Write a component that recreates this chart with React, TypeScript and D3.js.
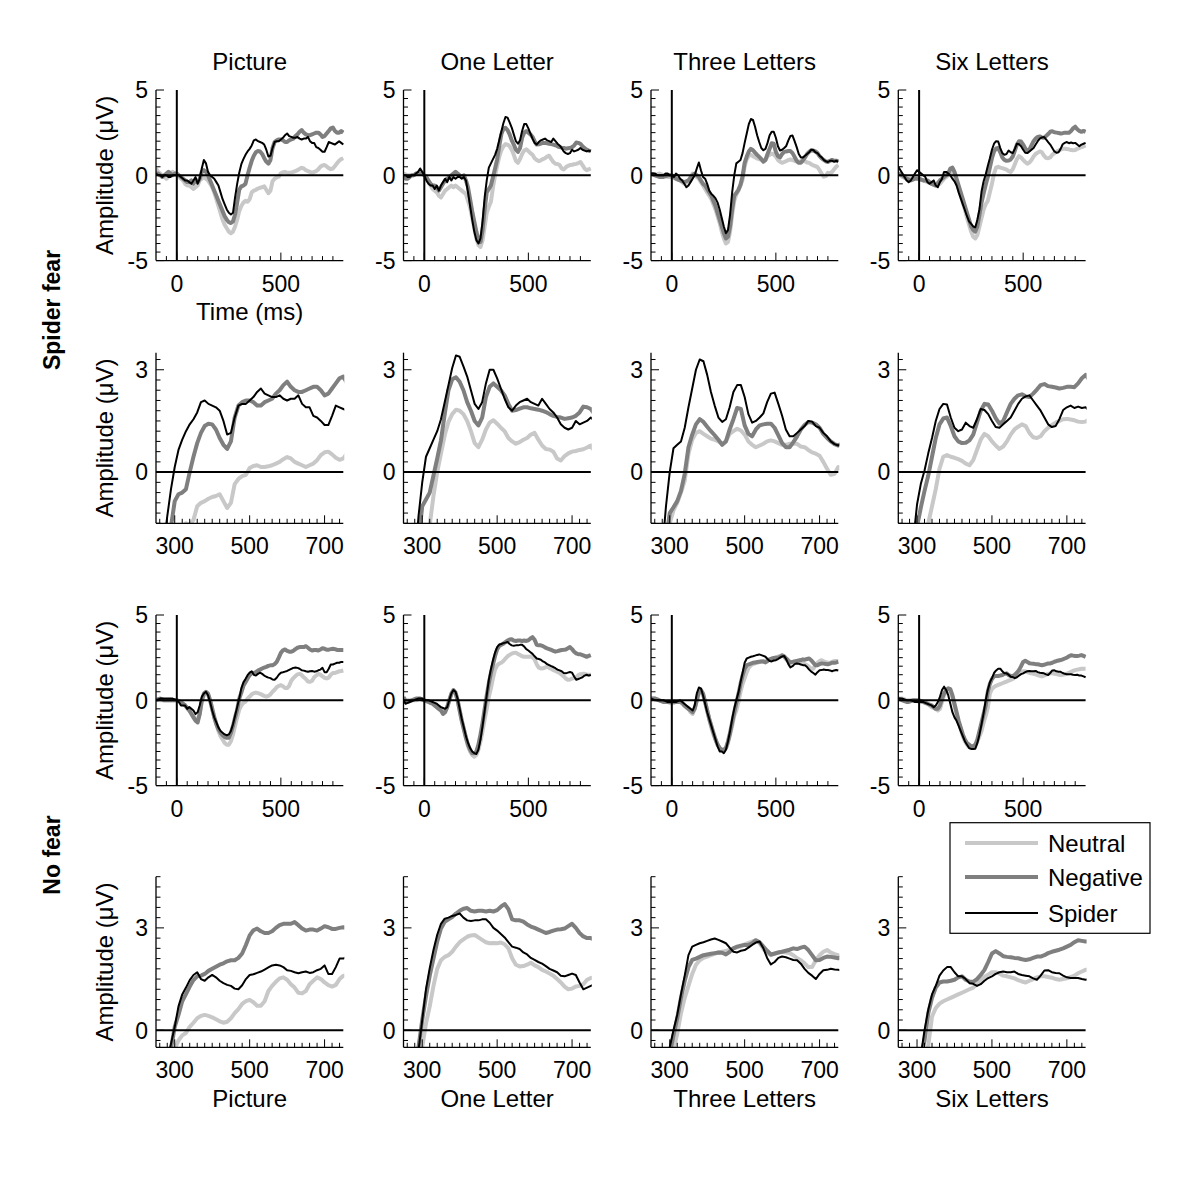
import React, { useEffect } from "react";
import * as d3 from "d3";

// ---------- DATA ----------
// sampling grid (ms), -100 .. 800 in 10 ms steps
const TIME: number[] = d3.range(-100, 801, 10);

const TASKS = ["Picture", "One Letter", "Three Letters", "Six Letters"];
const CONDITIONS = ["Neutral", "Negative", "Spider"];
const GROUPS = ["Spider fear", "No fear"];

const FULL_X_TICKS = [0, 500];
const FULL_Y_TICKS = [-5, 0, 5];
const ZOOM_X_TICKS = [300, 500, 700];
const ZOOM_Y_TICKS = [0, 3];

// ---- Spider fear group ----
const sfPictureNeutral = [
  0.4, 0.2, 0.1, 0, -0.1, -0.2, -0.1, 0.1, 0.2, 0.1,
  0, -0.1, -0.2, -0.3, -0.5, -0.6, -0.6, -0.7, -0.8, -0.7,
  -0.6, -0.3, -0.2, -0.1, -0.2, -0.3, -0.5, -0.7, -1.0, -1.4,
  -1.8, -2.2, -2.6, -2.9, -3.1, -3.3, -3.4, -3.3, -3.0, -2.6,
  -2.1, -1.8, -1.6, -1.5, -1.55, -1.4, -1.0, -0.9, -0.85, -0.78,
  -0.73, -0.7, -0.65, -0.85, -1.05, -0.9, -0.35, -0.2, -0.12, -0.08,
  0.12, 0.18, 0.2, 0.15, 0.15, 0.17, 0.2, 0.25, 0.3, 0.38,
  0.44, 0.4, 0.3, 0.25, 0.2, 0.15, 0.2, 0.25, 0.35, 0.5,
  0.58, 0.6, 0.52, 0.42, 0.36, 0.4, 0.55, 0.7, 0.85, 0.95,
  1.0,
];
const sfPictureNegative = [
  0.1, 0.1, 0, -0.1, 0, 0.1, 0.2, 0.1, 0, 0.1,
  0.1, 0, -0.1, -0.2, -0.3, -0.4, -0.4, -0.3, -0.5, -0.3,
  -0.4, -0.2, 0.2, 0.3, 0.2, 0.0, -0.3, -0.6, -0.9, -1.2,
  -1.5, -1.8, -2.1, -2.4, -2.6, -2.75, -2.8, -2.7, -2.3, -1.6,
  -0.85, -0.65, -0.6, -0.5, 0.0, 0.45, 0.85, 1.15, 1.35, 1.42,
  1.4, 1.25, 1.0, 0.8, 0.68, 0.9, 1.6, 1.95, 2.05, 2.1,
  2.1, 2.05, 1.95, 1.95, 2.05, 2.1, 2.15, 2.3, 2.4, 2.55,
  2.65, 2.5, 2.4, 2.35, 2.35, 2.4, 2.45, 2.5, 2.5, 2.4,
  2.25, 2.3, 2.45, 2.6, 2.75, 2.8, 2.6, 2.5, 2.5, 2.6,
  2.5,
];
const sfPictureSpider = [
  0.1, 0, 0, -0.1, 0, 0, -0.1, -0.1, 0, 0,
  0, 0, -0.1, -0.2, -0.3, -0.3, -0.4, -0.5, -0.3, -0.1,
  -0.5, -0.2, 0.4, 0.9, 0.7, 0.2, 0.0, -0.1, -0.2, -0.4,
  -0.6, -1.0, -1.4, -1.7, -2.0, -2.2, -2.3, -2.2, -1.3, -0.5,
  0.15, 0.65, 0.95, 1.2, 1.4, 1.55, 1.75, 2.05, 2.1, 2.0,
  1.95, 1.9, 1.8, 1.5, 1.1, 1.15, 1.6, 1.95, 2.0, 2.0,
  2.1, 2.2, 2.35, 2.45, 2.3, 2.25, 2.2, 2.2, 2.25, 2.15,
  2.1, 2.15, 2.15, 2.25, 2.0, 1.9, 1.9, 1.65, 1.6, 1.5,
  1.38, 1.38, 1.65, 1.95, 1.9, 1.85, 1.8, 1.9, 2.0, 1.9,
  1.8,
];

const sfOneNeutral = [
  0.1, 0.05, 0, 0, 0, 0, 0.1, 0.1, 0.1, 0.1,
  0, -0.2, -0.4, -0.6, -0.8, -0.9, -1.0, -1.2, -1.3, -1.1,
  -0.9, -0.8, -0.7, -0.6, -0.7, -0.6, -0.7, -0.8, -0.9, -1.0,
  -1.1, -1.5, -1.9, -2.5, -3.1, -3.7, -4.1, -4.2, -3.8, -3.0,
  -2.2, -1.85, -1.55, -0.7, 0.0, 0.54, 1.08, 1.47, 1.7, 1.83,
  1.8, 1.7, 1.5, 1.2, 0.85, 0.73, 0.95, 1.25, 1.45, 1.52,
  1.42, 1.3, 1.2, 1.0, 0.9, 0.83, 0.88, 0.95, 1.0, 1.1,
  1.15, 0.95, 0.78, 0.68, 0.66, 0.6, 0.4, 0.34, 0.47, 0.55,
  0.6, 0.62, 0.65, 0.67, 0.72, 0.78, 0.6, 0.4, 0.3, 0.35,
  0.4,
];
const sfOneNegative = [
  -0.1, -0.2, -0.2, -0.1, 0, 0, 0.1, 0.1, 0.1, 0.1,
  0, -0.1, -0.3, -0.5, -0.6, -0.6, -0.7, -0.9, -0.7, -0.5,
  -0.3, -0.2, -0.1, 0.0, 0.1, 0.2, 0.1, 0, -0.1, 0,
  -0.3, -0.7, -1.4, -2.1, -2.7, -3.3, -3.8, -3.9, -3.2, -2.0,
  -1.0, -0.8, -0.6, -0.1, 0.4, 0.93, 1.7, 2.4, 2.72, 2.78,
  2.65, 2.4, 2.05, 1.8, 1.5, 1.37, 1.6, 2.2, 2.5, 2.6,
  2.5, 2.4, 2.25, 2.0, 1.8, 1.82, 1.86, 1.9, 1.9, 1.87,
  1.85, 1.83, 1.8, 1.76, 1.7, 1.65, 1.62, 1.6, 1.56, 1.58,
  1.6, 1.65, 1.75, 1.92, 1.9, 1.85, 1.7, 1.6, 1.5, 1.45,
  1.4,
];
const sfOneSpider = [
  0, 0, -0.1, -0.1, 0, 0, 0.1, 0.2, 0.4, 0.2,
  0, -0.3, -0.5, -0.6, -0.6, -0.8, -0.6, -0.9, -0.6, -0.4,
  -0.2, -0.4, -0.1, -0.3, -0.1, -0.2, -0.1, -0.1, -0.2, -0.1,
  -0.3, -1.0, -1.8, -2.6, -3.3, -3.8, -4.0, -3.7, -2.7, -1.3,
  -0.3, 0.45, 0.7, 0.95, 1.2, 1.55, 2.05, 2.55, 3.05, 3.42,
  3.38, 3.1, 2.8, 2.4, 2.0, 1.85, 2.05, 2.6, 3.0, 3.0,
  2.75, 2.45, 2.15, 1.9, 1.8, 1.95, 2.05, 2.1, 2.15, 2.05,
  2.0, 1.95, 2.15, 2.0, 1.85, 1.75, 1.6, 1.4, 1.3, 1.25,
  1.3, 1.5, 1.4, 1.45, 1.5, 1.6, 1.5, 1.45, 1.4, 1.45,
  1.4,
];

const sfThreeNeutral = [
  0.1, 0.05, 0, 0.05, 0.1, 0.05, 0, -0.05, -0.1, -0.1,
  -0.1, -0.15, -0.2, -0.25, -0.3, -0.4, -0.5, -0.45, -0.3, -0.1,
  0.1, 0, -0.1, -0.2, -0.4, -0.6, -0.8, -1.0, -1.2, -1.4,
  -1.7, -2.0, -2.4, -2.8, -3.3, -3.7, -4.0, -3.9, -3.3, -2.3,
  -1.5, -1.12, -0.9, -0.6, -0.25, 0.54, 0.95, 1.15, 1.2, 1.12,
  1.05, 0.98, 0.95, 0.9, 0.83, 0.9, 1.12, 1.2, 1.27, 1.22,
  1.1, 0.9, 0.8, 0.73, 0.78, 0.83, 0.9, 0.93, 0.9, 0.85,
  0.8, 0.8, 0.83, 0.83, 0.83, 0.75, 0.73, 0.65, 0.58, 0.54,
  0.48, 0.3, 0.1, -0.08, -0.05, 0.15, 0.1, 0.2, 0.35, 0.5,
  0.6,
];
const sfThreeNegative = [
  0.1, 0.05, 0, -0.05, -0.1, -0.1, -0.1, -0.05, 0, 0,
  0, -0.1, -0.2, -0.25, -0.3, -0.35, -0.4, -0.35, -0.3, -0.15,
  0, 0.1, 0.0, -0.1, -0.3, -0.5, -0.6, -0.8, -1.0, -1.2,
  -1.5, -1.8, -2.2, -2.6, -3.0, -3.4, -3.7, -3.6, -3.0, -2.0,
  -1.2, -1.03, -0.85, -0.55, -0.05, 0.73, 1.1, 1.4, 1.55, 1.47,
  1.33, 1.2, 1.08, 0.95, 0.8, 0.9, 1.25, 1.55, 1.88, 1.85,
  1.37, 1.12, 1.05, 1.25, 1.37, 1.4, 1.42, 1.42, 1.3, 1.08,
  0.85, 0.73, 0.73, 0.88, 1.05, 1.25, 1.38, 1.47, 1.45, 1.4,
  1.3, 1.12, 1.0, 0.9, 0.82, 0.78, 0.85, 0.9, 0.85, 0.85,
  0.82,
];
const sfThreeSpider = [
  0.1, 0.1, 0.1, 0, 0, 0, 0, 0.1, 0.1, 0,
  0, -0.1, 0.1, 0, -0.2, -0.3, -0.5, -0.7, -0.6, -0.4,
  -0.2, 0.0, 0.4, 0.75, 0.3, -0.1, -0.2, -0.5, -0.9, -1.1,
  -1.2, -1.35, -1.6, -2.0, -2.5, -3.0, -3.4, -3.2, -2.3, -1.0,
  0.0, 0.7, 0.8, 0.9, 1.3, 1.9, 2.45, 3.0, 3.3, 3.25,
  2.85, 2.35, 1.95, 1.6, 1.47, 1.55, 1.9, 2.35, 2.55, 2.55,
  2.2, 1.7, 1.45, 1.5, 1.6, 1.72, 2.05, 2.3, 2.33, 2.0,
  1.65, 1.25, 1.05, 1.05, 1.15, 1.25, 1.35, 1.5, 1.48, 1.35,
  1.3, 1.15, 1.05, 0.9, 0.82, 0.78, 0.85, 0.85, 0.8, 0.85,
  0.8,
];

const sfSixNeutral = [
  0.1, 0, -0.1, -0.15, -0.2, -0.2, -0.2, -0.15, -0.1, -0.15,
  -0.2, -0.25, -0.3, -0.35, -0.4, -0.45, -0.5, -0.55, -0.6, -0.55,
  -0.5, -0.35, -0.2, -0.1, 0, 0.2, 0.2, 0, -0.4, -0.8,
  -1.2, -1.6, -2.0, -2.5, -2.9, -3.3, -3.6, -3.7, -3.5, -3.0,
  -2.5, -2.0, -1.7, -1.5, -1.0, -0.5, 0.1, 0.45, 0.5, 0.45,
  0.42, 0.38, 0.33, 0.25, 0.2, 0.35, 0.65, 0.95, 1.12, 1.05,
  0.9, 0.78, 0.68, 0.75, 0.9, 1.1, 1.25, 1.33, 1.4, 1.35,
  1.15, 1.02, 1.0, 1.05, 1.2, 1.3, 1.38, 1.45, 1.5, 1.55,
  1.56, 1.54, 1.52, 1.48, 1.47, 1.48, 1.55, 1.6, 1.65, 1.7,
  1.75,
];
const sfSixNegative = [
  0.1, 0.05, 0, -0.1, -0.2, -0.25, -0.3, -0.25, -0.2, -0.2,
  -0.2, -0.25, -0.3, -0.3, -0.3, -0.4, -0.5, -0.55, -0.6, -0.45,
  -0.3, -0.2, -0.1, 0, 0.1, 0.4, 0.45, 0.2, -0.2, -0.6,
  -1.0, -1.4, -1.8, -2.2, -2.6, -3.0, -3.2, -3.3, -3.0, -2.3,
  -1.6, -1.05, -0.55, -0.1, 0.45, 1.0, 1.4, 1.57, 1.6, 1.35,
  1.05, 0.9, 0.85, 0.86, 0.93, 1.1, 1.45, 1.8, 2.0, 1.98,
  1.8, 1.58, 1.42, 1.5, 1.75, 2.0, 2.15, 2.25, 2.28, 2.22,
  2.2, 2.3, 2.42, 2.55, 2.58, 2.52, 2.5, 2.48, 2.45, 2.47,
  2.5, 2.5, 2.49, 2.6, 2.75, 2.85, 2.7, 2.6, 2.55, 2.6,
  2.55,
];
const sfSixSpider = [
  0.5, 0.3, 0.1, -0.1, -0.3, -0.4, -0.3, -0.1, 0.1, 0.3,
  0.2, 0.1, 0, -0.1, -0.4, -0.5, -0.4, -0.3, -0.6, -0.7,
  -0.4, -0.2, 0.2, 0.2, 0.1, 0, -0.2, -0.35, -0.6, -1.0,
  -1.35, -1.7, -2.05, -2.4, -2.7, -2.85, -3.0, -3.05, -2.6, -2.0,
  -0.95, -0.35, 0.05, 0.55, 1.0, 1.5, 1.85, 2.0, 1.98, 1.6,
  1.3, 1.2, 1.25, 1.45, 1.35, 1.3, 1.55, 1.85, 1.82, 1.7,
  1.5, 1.32, 1.3, 1.4, 1.5, 1.6, 1.8, 2.0, 2.15, 2.22,
  2.25, 2.1, 1.95, 1.8, 1.6, 1.4, 1.32, 1.35, 1.55, 1.82,
  1.9, 1.95, 1.88, 1.92, 1.88, 1.9, 1.8, 1.7, 1.8, 1.85,
  1.9,
];

// ---- No fear group ----
const nfPictureNeutral = [
  0.1, 0.05, 0, 0, 0, 0, 0, 0, 0, 0,
  0, -0.05, -0.1, -0.2, -0.3, -0.45, -0.6, -0.75, -0.9, -1.1,
  -1.2, -0.8, -0.1, 0.3, 0.45, 0.35, 0, -0.5, -1.0, -1.4,
  -1.8, -2.1, -2.3, -2.5, -2.6, -2.6, -2.4, -2.0, -1.5, -1.0,
  -0.55, -0.3, -0.15, -0.08, 0.1, 0.22, 0.35, 0.42, 0.45, 0.42,
  0.38, 0.32, 0.26, 0.22, 0.25, 0.35, 0.5, 0.62, 0.77, 0.85,
  0.89, 0.82, 0.72, 0.72, 0.85, 1.15, 1.3, 1.42, 1.52, 1.55,
  1.48, 1.35, 1.25, 1.1, 1.08, 1.15, 1.35, 1.45, 1.55, 1.5,
  1.4, 1.32, 1.28, 1.33, 1.5, 1.6, 1.6, 1.65, 1.7, 1.72,
  1.75,
];
const nfPictureNegative = [
  0, 0.05, 0.1, 0.05, 0, 0, 0, 0, 0, 0,
  0, -0.05, -0.1, -0.2, -0.3, -0.45, -0.6, -0.8, -1.0, -1.2,
  -1.3, -0.8, 0, 0.4, 0.5, 0.4, 0.0, -0.5, -1.0, -1.4,
  -1.7, -1.9, -2.05, -2.15, -2.2, -2.2, -1.9, -1.5, -1.0, -0.55,
  0.1, 0.45, 0.85, 1.06, 1.28, 1.47, 1.58, 1.6, 1.65, 1.74,
  1.8, 1.86, 1.92, 1.96, 2.02, 2.05, 2.05, 2.12, 2.25, 2.5,
  2.78, 2.93, 2.98, 2.9, 2.85, 2.85, 2.9, 3.0, 3.08, 3.12,
  3.12, 3.12, 3.17, 3.08, 2.98, 2.92, 2.95, 2.95, 2.92, 2.98,
  3.05, 3.02, 2.97, 2.97, 3.0, 3.02, 3.0, 2.95, 2.95, 2.95,
  2.95,
];
const nfPictureSpider = [
  0, 0.05, 0.1, 0.1, 0.1, 0.1, 0.1, 0.1, 0.1, 0.05,
  0, -0.1, -0.3, -0.3, -0.3, -0.5, -0.4, -0.5, -0.6, -0.8,
  -0.7, -0.3, 0.2, 0.4, 0.5, 0.3, -0.1, -0.6, -1.0, -1.3,
  -1.6, -1.8, -1.9, -2.0, -2.05, -2.0, -1.8, -1.4, -0.9, -0.4,
  0.1, 0.7, 1.05, 1.25, 1.47, 1.62, 1.7, 1.5, 1.45, 1.55,
  1.62, 1.55, 1.45, 1.38, 1.33, 1.3, 1.22, 1.2, 1.32, 1.5,
  1.62, 1.64, 1.68, 1.72, 1.78, 1.84, 1.9, 1.92, 1.9, 1.85,
  1.76, 1.74, 1.7, 1.67, 1.7, 1.72, 1.68, 1.7, 1.76, 1.8,
  1.9, 1.65, 1.65, 1.85, 2.1, 2.1, 2.15, 2.2, 2.2, 2.25,
  2.25,
];

const nfOneNeutral = [
  0.1, 0.05, 0, 0, 0, 0, 0, 0.05, 0.1, 0.05,
  0, -0.05, -0.1, -0.15, -0.2, -0.3, -0.4, -0.5, -0.6, -0.6,
  -0.6, -0.4, 0, 0.35, 0.5, 0.4, 0, -0.6, -1.2, -1.7,
  -2.2, -2.7, -3.0, -3.2, -3.3, -3.2, -2.9, -2.4, -1.8, -1.1,
  -0.5, 0.2, 0.7, 1.3, 1.8, 2.05, 2.15, 2.2, 2.3, 2.45,
  2.58, 2.66, 2.74, 2.78, 2.79, 2.72, 2.65, 2.58, 2.55, 2.56,
  2.55, 2.57, 2.52, 2.4, 2.11, 1.92, 1.87, 1.88, 1.92, 1.98,
  1.9, 1.85, 1.77, 1.72, 1.66, 1.6, 1.5, 1.4, 1.28, 1.2,
  1.22, 1.28, 1.3, 1.35, 1.48, 1.53, 1.55, 1.55, 1.5, 1.5,
  1.5,
];
const nfOneNegative = [
  0.2, -0.1, -0.1, -0.05, 0, 0.05, 0.1, 0.1, 0.1, 0.05,
  0, -0.05, -0.1, -0.15, -0.2, -0.3, -0.4, -0.5, -0.6, -0.8,
  -0.7, -0.4, 0, 0.4, 0.6, 0.45, 0, -0.6, -1.2, -1.7,
  -2.2, -2.6, -2.9, -3.1, -3.1, -3.0, -2.6, -2.0, -1.3, -0.5,
  0.3, 1.0, 1.6, 2.1, 2.6, 2.98, 3.18, 3.25, 3.32, 3.42,
  3.5, 3.56, 3.58, 3.5, 3.48, 3.5, 3.5, 3.48, 3.5, 3.48,
  3.52, 3.62, 3.7, 3.55, 3.25, 3.22, 3.22, 3.18, 3.1, 3.04,
  3.0, 2.95, 2.9, 2.85, 2.88, 2.92, 2.95, 2.96, 2.98, 3.05,
  3.12, 3.0, 2.85, 2.75, 2.7, 2.7, 2.65, 2.6, 2.55, 2.6,
  2.65,
];
const nfOneSpider = [
  0, -0.2, -0.15, -0.1, -0.05, 0, 0.05, 0.1, 0.1, 0.1,
  0, 0, 0, -0.05, -0.1, -0.15, -0.2, -0.3, -0.4, -0.45,
  -0.5, -0.4, 0, 0.4, 0.6, 0.5, 0.1, -0.5, -1.1, -1.6,
  -2.1, -2.5, -2.8, -3.0, -3.1, -3.15, -2.9, -2.3, -1.5, -0.6,
  0.3, 1.2, 1.82, 2.35, 2.8, 3.12, 3.27, 3.3, 3.35, 3.38,
  3.42, 3.3, 3.22, 3.2, 3.22, 3.22, 3.25, 3.25, 3.15, 3.0,
  2.92, 2.82, 2.72, 2.58, 2.45, 2.42, 2.38, 2.28, 2.22, 2.12,
  2.06, 2.0, 1.95, 1.88, 1.8, 1.75, 1.7, 1.6, 1.58, 1.62,
  1.66, 1.62, 1.4, 1.2, 1.25, 1.3, 1.35, 1.45, 1.5, 1.45,
  1.5,
];

const nfThreeNeutral = [
  0.1, 0.1, 0.1, 0.05, 0, -0.05, -0.1, -0.1, -0.1, -0.15,
  -0.2, -0.15, -0.1, -0.1, -0.1, -0.2, -0.3, -0.4, -0.5, -0.7,
  -0.8, -0.5, 0, 0.4, 0.55, 0.35, -0.1, -0.6, -1.1, -1.6,
  -2.0, -2.3, -2.6, -2.8, -2.9, -2.9, -2.8, -2.5, -2.0, -1.5,
  -0.9, -0.6, -0.1, 0.5, 0.95, 1.3, 1.65, 1.92, 2.05, 2.12,
  2.16, 2.2, 2.24, 2.28, 2.3, 2.32, 2.36, 2.4, 2.43, 2.46,
  2.52, 2.56, 2.6, 2.63, 2.55, 2.38, 2.27, 2.2, 2.24, 2.28,
  2.3, 2.28, 2.26, 2.2, 2.11, 2.05, 1.96, 1.85, 1.85, 2.05,
  2.2, 2.3, 2.35, 2.28, 2.23, 2.2, 2.2, 2.25, 2.3, 2.3,
  2.3,
];
const nfThreeNegative = [
  0.1, 0.1, 0.1, 0.05, 0, -0.05, -0.1, -0.1, -0.1, -0.1,
  -0.1, -0.1, -0.1, -0.1, -0.1, -0.15, -0.3, -0.4, -0.5, -0.6,
  -0.7, -0.5, 0, 0.5, 0.6, 0.4, -0.1, -0.6, -1.1, -1.5,
  -1.9, -2.3, -2.6, -2.8, -2.9, -2.9, -2.8, -2.4, -1.9, -1.3,
  -0.7, -0.15, 0.35, 0.95, 1.45, 1.85, 2.06, 2.1, 2.15, 2.2,
  2.22, 2.24, 2.26, 2.28, 2.27, 2.22, 2.3, 2.4, 2.45, 2.48,
  2.5, 2.5, 2.55, 2.64, 2.58, 2.45, 2.33, 2.22, 2.25, 2.28,
  2.3, 2.33, 2.36, 2.4, 2.38, 2.42, 2.45, 2.35, 2.2, 2.05,
  2.06, 2.12, 2.16, 2.15, 2.13, 2.11, 2.15, 2.2, 2.2, 2.22,
  2.25,
];
const nfThreeSpider = [
  0.1, 0.05, 0, 0, 0, 0, 0, -0.05, -0.1, -0.1,
  -0.1, -0.1, -0.1, -0.05, 0, -0.1, -0.2, -0.3, -0.4, -0.5,
  -0.6, -0.3, 0.4, 0.75, 0.7, 0.3, -0.2, -0.7, -1.1, -1.5,
  -1.9, -2.3, -2.7, -3.0, -3.0, -3.1, -2.9, -2.4, -1.8, -1.1,
  -0.5, 0.0, 0.45, 1.05, 1.6, 2.2, 2.45, 2.5, 2.55, 2.58,
  2.62, 2.66, 2.69, 2.65, 2.6, 2.55, 2.42, 2.3, 2.28, 2.33,
  2.35, 2.42, 2.5, 2.57, 2.6, 2.4, 2.12, 1.93, 2.0, 2.12,
  2.16, 2.14, 2.1, 2.06, 2.05, 1.95, 1.8, 1.68, 1.6, 1.5,
  1.65, 1.76, 1.77, 1.8, 1.78, 1.77, 1.75, 1.7, 1.75, 1.78,
  1.75,
];

const nfSixNeutral = [
  0.1, 0.1, 0.1, 0.05, 0, 0, 0, 0, 0, -0.05,
  -0.1, -0.1, -0.1, -0.15, -0.2, -0.3, -0.4, -0.45, -0.5, -0.6,
  -0.5, -0.1, 0.3, 0.5, 0.55, 0.5, 0.2, -0.3, -0.8, -1.3,
  -1.7, -2.1, -2.4, -2.6, -2.75, -2.8, -2.8, -2.7, -2.4, -2.1,
  -1.8, -1.3, -0.9, -0.45, 0.4, 0.65, 0.78, 0.85, 0.9, 0.95,
  1.0, 1.05, 1.1, 1.15, 1.2, 1.25, 1.35, 1.48, 1.56, 1.63,
  1.7, 1.7, 1.66, 1.6, 1.58, 1.55, 1.52, 1.47, 1.43, 1.4,
  1.45, 1.5, 1.55, 1.58, 1.58, 1.56, 1.54, 1.5, 1.48, 1.5,
  1.52, 1.56, 1.6, 1.67, 1.72, 1.77, 1.8, 1.82, 1.85, 1.85,
  1.85,
];
const nfSixNegative = [
  0.1, 0.05, 0, -0.05, -0.1, -0.1, -0.05, 0, 0, 0,
  0, -0.05, -0.1, -0.15, -0.2, -0.25, -0.3, -0.4, -0.5, -0.5,
  -0.3, 0.1, 0.4, 0.6, 0.7, 0.65, 0.3, -0.2, -0.7, -1.2,
  -1.6, -2.0, -2.3, -2.5, -2.6, -2.7, -2.7, -2.6, -2.3, -1.8,
  -1.3, -0.8, -0.3, 0.5, 0.95, 1.25, 1.4, 1.43, 1.43, 1.45,
  1.48, 1.55, 1.58, 1.48, 1.43, 1.42, 1.5, 1.62, 1.77, 2.0,
  2.25, 2.32, 2.25, 2.17, 2.15, 2.14, 2.12, 2.11, 2.08, 2.06,
  2.08, 2.12, 2.16, 2.16, 2.2, 2.26, 2.3, 2.33, 2.36, 2.4,
  2.45, 2.5, 2.58, 2.64, 2.62, 2.6, 2.6, 2.62, 2.65, 2.6,
  2.55,
];
const nfSixSpider = [
  0.1, 0.1, 0.1, 0.05, 0, 0, 0, -0.05, -0.1, -0.1,
  -0.1, -0.1, -0.1, -0.15, -0.2, -0.25, -0.3, -0.4, -0.3, -0.1,
  0.2, 0.6, 0.8, 0.6, 0.3, -0.2, -0.7, -1.0, -1.2, -1.5,
  -1.8, -2.1, -2.4, -2.6, -2.8, -2.85, -2.85, -2.84, -2.5, -2.0,
  -1.4, -0.75, 0.0, 0.6, 1.05, 1.3, 1.6, 1.75, 1.85, 1.85,
  1.7, 1.58, 1.58, 1.5, 1.38, 1.36, 1.3, 1.35, 1.45, 1.53,
  1.58, 1.65, 1.7, 1.72, 1.7, 1.7, 1.72, 1.65, 1.62, 1.6,
  1.58, 1.52, 1.48, 1.6, 1.75, 1.76, 1.7, 1.68, 1.67, 1.6,
  1.55, 1.53, 1.53, 1.53, 1.5, 1.48, 1.5, 1.45, 1.45, 1.4,
  1.35,
];

const SPIDER_FEAR_SERIES = [
  [sfPictureNeutral, sfPictureNegative, sfPictureSpider],
  [sfOneNeutral, sfOneNegative, sfOneSpider],
  [sfThreeNeutral, sfThreeNegative, sfThreeSpider],
  [sfSixNeutral, sfSixNegative, sfSixSpider],
];
const NO_FEAR_SERIES = [
  [nfPictureNeutral, nfPictureNegative, nfPictureSpider],
  [nfOneNeutral, nfOneNegative, nfOneSpider],
  [nfThreeNeutral, nfThreeNegative, nfThreeSpider],
  [nfSixNeutral, nfSixNegative, nfSixSpider],
];

// ---------- STYLE / LAYOUT ----------
const COLORS = ["#c8c8c8", "#7f7f7f", "#000000"];
const WIDTHS = [4, 4, 2];
const FONT = "'Liberation Sans', Arial, Helvetica, sans-serif";

const COL_X = [156, 403.5, 651, 898.3];
const ROW_Y = [90, 352.7, 615, 876.7];
const PW = 187.3;
const PH = 170.6;

type RowCfg = {
  series: number[][][];
  kind: "full" | "zoom";
  xDomain: [number, number];
  yDomain: [number, number];
};

const ROWS: RowCfg[] = [
  { series: SPIDER_FEAR_SERIES, kind: "full", xDomain: [-100, 800], yDomain: [-5, 5] },
  { series: SPIDER_FEAR_SERIES, kind: "zoom", xDomain: [250, 750], yDomain: [-1.5, 3.5] },
  { series: NO_FEAR_SERIES, kind: "full", xDomain: [-100, 800], yDomain: [-5, 5] },
  { series: NO_FEAR_SERIES, kind: "zoom", xDomain: [250, 750], yDomain: [-0.5, 4.5] },
];

function Panel({ row, col }: { row: number; col: number }) {
  const cfg = ROWS[row];
  const x0 = COL_X[col];
  const y0 = ROW_Y[row];
  const xs = d3.scaleLinear().domain(cfg.xDomain).range([x0, x0 + PW]);
  const ys = d3.scaleLinear().domain(cfg.yDomain).range([y0 + PH, y0]);
  const line = d3
    .line<number>()
    .x((_, i) => xs(TIME[i]))
    .y((d) => ys(d));
  const clipId = `clip-${row}-${col}`;
  const full = cfg.kind === "full";
  const xMajor = full ? FULL_X_TICKS : ZOOM_X_TICKS;
  const yMajor = full ? FULL_Y_TICKS : ZOOM_Y_TICKS;
  const xMinorStep = full ? 50 : 20;
  const yMinorStep = full ? 0.5 : 0.3;
  const xMinor = d3
    .range(Math.ceil(cfg.xDomain[0] / xMinorStep), Math.floor(cfg.xDomain[1] / xMinorStep) + 1)
    .map((k) => k * xMinorStep)
    .filter((v) => v > cfg.xDomain[0] && v < cfg.xDomain[1]);
  const yMinor = d3
    .range(Math.ceil(cfg.yDomain[0] / yMinorStep - 1e-6), Math.floor(cfg.yDomain[1] / yMinorStep + 1e-6) + 1)
    .map((k) => +(k * yMinorStep).toFixed(3));
  const bottom = y0 + PH;
  const series = cfg.series[col];
  return (
    <g>
      <defs>
        <clipPath id={clipId}>
          <rect x={x0} y={y0} width={PW + 1} height={PH} />
        </clipPath>
      </defs>
      <g clipPath={`url(#${clipId})`}>
        {series.map((vals, k) => (
          <path
            key={k}
            d={line(vals) || ""}
            fill="none"
            stroke={COLORS[k]}
            strokeWidth={WIDTHS[k]}
            strokeLinejoin="round"
          />
        ))}
      </g>
      {/* zero lines */}
      <line x1={x0} x2={x0 + PW} y1={ys(0)} y2={ys(0)} stroke="#000" strokeWidth={2} />
      {full && <line x1={xs(0)} x2={xs(0)} y1={y0} y2={bottom} stroke="#000" strokeWidth={2} />}
      {/* spines */}
      <line x1={x0} x2={x0} y1={y0} y2={bottom} stroke="#000" strokeWidth={1.3} />
      <line x1={x0} x2={x0 + PW} y1={bottom} y2={bottom} stroke="#000" strokeWidth={1.3} />
      {/* ticks */}
      {xMinor.map((v) => (
        <line key={"xm" + v} x1={xs(v)} x2={xs(v)} y1={bottom} y2={bottom - (xMajor.includes(v) ? 8 : 4.5)} stroke="#000" strokeWidth={1} />
      ))}
      {yMinor.map((v) => (
        <line key={"ym" + v} x1={x0} x2={x0 + (yMajor.includes(v) ? 8 : 4.5)} y1={ys(v)} y2={ys(v)} stroke="#000" strokeWidth={1} />
      ))}
      {/* tick labels */}
      {yMajor.map((v) => (
        <text key={"yl" + v} x={x0 - 8} y={ys(v)} dy="0.36em" textAnchor="end" fontSize={23}>
          {v < 0 ? "-" + Math.abs(v) : String(v)}
        </text>
      ))}
      {xMajor.map((v) => (
        <text key={"xl" + v} x={xs(v)} y={bottom + 31} textAnchor="middle" fontSize={23}>
          {String(v)}
        </text>
      ))}
    </g>
  );
}

export default function App() {
  useEffect(() => {
    document.body.style.margin = "0";
  }, []);
  return (
    <svg width={1200} height={1198} viewBox="0 0 1200 1198" style={{ display: "block", background: "#fff" }} fontFamily={FONT}>
      <rect x={0} y={0} width={1200} height={1198} fill="#fff" />
      {/* column titles */}
      {TASKS.map((t, c) => (
        <text key={"ct" + c} x={COL_X[c] + PW / 2} y={70} textAnchor="middle" fontSize={24}>
          {t}
        </text>
      ))}
      {/* bottom labels */}
      {TASKS.map((t, c) => (
        <text key={"bt" + c} x={COL_X[c] + PW / 2} y={ROW_Y[3] + PH + 60} textAnchor="middle" fontSize={24}>
          {t}
        </text>
      ))}
      <text x={COL_X[0] + PW / 2} y={ROW_Y[0] + PH + 59} textAnchor="middle" fontSize={24}>
        Time (ms)
      </text>
      {/* y axis labels */}
      {ROW_Y.map((y, r) => (
        <text
          key={"yl" + r}
          transform={`translate(${COL_X[0] - 43},${y + PH / 2}) rotate(-90)`}
          textAnchor="middle"
          fontSize={24}
        >
          Amplitude (μV)
        </text>
      ))}
      {/* group labels */}
      <text transform={`translate(60,310) rotate(-90)`} textAnchor="middle" fontSize={23} fontWeight="bold">
        {GROUPS[0]}
      </text>
      <text transform={`translate(60,855) rotate(-90)`} textAnchor="middle" fontSize={23} fontWeight="bold">
        {GROUPS[1]}
      </text>
      {ROWS.map((_, r) => TASKS.map((__, c) => <Panel key={`p${r}-${c}`} row={r} col={c} />))}
      {/* legend */}
      <g>
        <rect x={950} y={822.7} width={200} height={110.6} fill="#fff" stroke="#000" strokeWidth={1.2} />
        {CONDITIONS.map((name, k) => {
          const ly = [843, 877, 913][k];
          return (
            <g key={name}>
              <line x1={965} x2={1038} y1={ly} y2={ly} stroke={COLORS[k]} strokeWidth={WIDTHS[k]} />
              <text x={1048} y={ly} dy="0.36em" fontSize={24}>
                {name}
              </text>
            </g>
          );
        })}
      </g>
    </svg>
  );
}
